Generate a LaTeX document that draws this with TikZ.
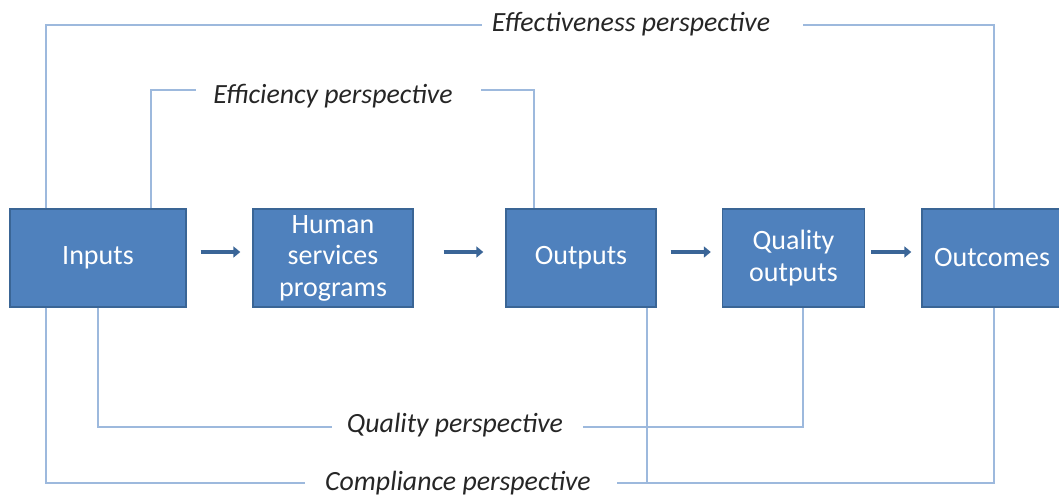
\documentclass[tikz,border=0pt]{standalone}
\usepackage{fontspec}
\setmainfont{Carlito}
\usetikzlibrary{arrows.meta}
\definecolor{boxfill}{HTML}{4F81BD}
\definecolor{boxedge}{HTML}{3A6595}
\definecolor{flowblue}{HTML}{3A6597}
\definecolor{perspline}{HTML}{9DB9DD}
\definecolor{labeltext}{HTML}{262626}
\tikzset{
  stage/.style={draw=boxedge, line width=1.4pt, fill=boxfill, text=white,
    inner sep=0pt, align=center, minimum height=98pt,
    font=\fontsize{28}{31.5}\selectfont},
  flow/.style={draw=flowblue, line width=4pt,
    -{Triangle[length=7pt,width=11pt]}},
  persp/.style={draw=perspline, line width=1.5pt},
  plabel/.style={text=labeltext, inner sep=0pt, anchor=base,
    font=\fontsize{27.8}{31}\selectfont\itshape}
}
\begin{document}
\begin{tikzpicture}[x=1pt,y=-1pt]
\useasboundingbox (0,0) rectangle (1059,496);

% stages of the chain
\node[stage, minimum width=176pt] (inputs)   at (98,258)  {Inputs};
\node[stage, minimum width=160pt] (programs) at (333,258) {Human\\services\\programs};
\node[stage, minimum width=150pt] (outputs)  at (581,258) {Outputs};
\node[stage, minimum width=142pt] (quality)  at (793.5,258) {Quality\\outputs};
\node[stage, minimum width=140pt] (outcomes) at (992,258) {Outcomes};

% flow arrows between stages
\draw[flow, shorten <=14pt, shorten >=12pt] ([yshift=6pt]inputs.east) -- ([yshift=6pt]programs.west);
\draw[flow, shorten <=30pt, shorten >=22pt] ([yshift=6pt]programs.east) -- ([yshift=6pt]outputs.west);
\draw[flow, shorten <=14pt, shorten >=11pt] ([yshift=6pt]outputs.east) -- ([yshift=6pt]quality.west);
\draw[flow, shorten <=6pt, shorten >=10pt] ([yshift=6pt]quality.east) -- ([yshift=6pt]outcomes.west);

% perspective labels
\node[plabel] (effect)  at (631,31)  {Effectiveness perspective};
\node[plabel] (effic)   at (333,103) {Efficiency perspective};
\node[plabel] (qualp)   at (455,432) {Quality perspective};
\node[plabel] (compl)   at (458,490) {Compliance perspective};

% corners and gap ends of the perspective brackets
\coordinate (effL) at (46,25);   \coordinate (effR) at (994,25);
\coordinate (effA) at (482,25);  \coordinate (effB) at (803,25);
\coordinate (ficL) at (151,90);  \coordinate (ficR) at (534,90);
\coordinate (ficA) at (196,90);  \coordinate (ficB) at (481,90);
\coordinate (quaL) at (98,427);  \coordinate (quaR) at (803,427);
\coordinate (quaA) at (332,427); \coordinate (quaB) at (583,427);
\coordinate (comL) at (46,483);  \coordinate (comR) at (994,483);
\coordinate (comA) at (305,483); \coordinate (comB) at (617,483);
\coordinate (comO) at (647,483);

% effectiveness: inputs to outcomes, above
\draw[persp] (inputs.north -| effL) -- (effL) -- (effA);
\draw[persp] (effB) -- (effR) -- (outcomes.north -| effR);
% efficiency: inputs to outputs, above
\draw[persp] (inputs.north -| ficL) -- (ficL) -- (ficA);
\draw[persp] (ficB) -- (ficR) -- (outputs.north -| ficR);
% quality: inputs to quality outputs, below
\draw[persp] (inputs.south -| quaL) -- (quaL) -- (quaA);
\draw[persp] (quaB) -- (quaR) -- (quality.south -| quaR);
% compliance: inputs, outputs and outcomes, below
\draw[persp] (inputs.south -| comL) -- (comL) -- (comA);
\draw[persp] (comB) -- (comR) -- (outcomes.south -| comR);
\draw[persp] (outputs.south -| comO) -- (comO);
\end{tikzpicture}
\end{document}
